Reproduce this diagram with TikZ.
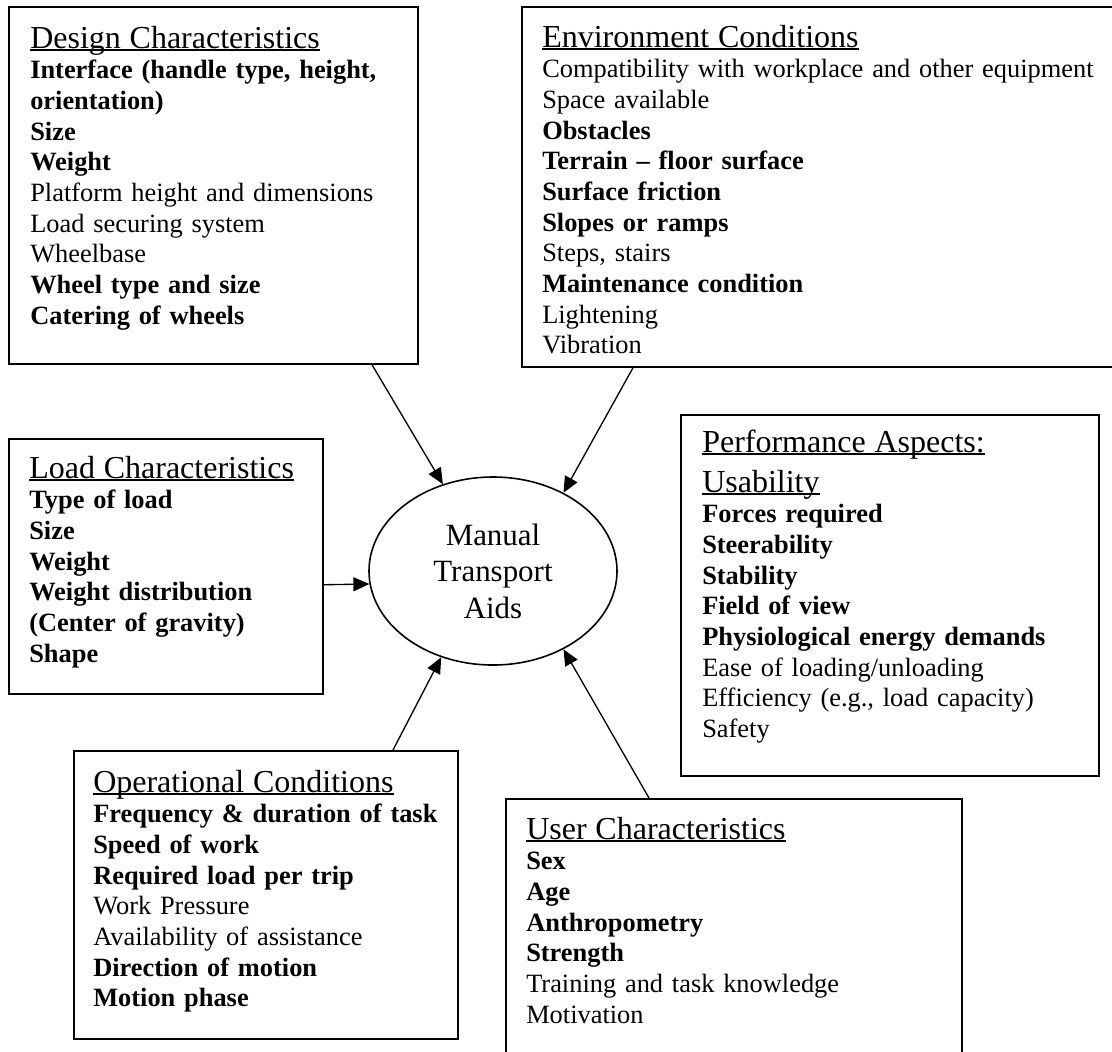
\documentclass[tikz,border=0pt]{standalone}
\usepackage{fontspec}
\setmainfont{Liberation Serif}
\usetikzlibrary{arrows.meta,shapes.geometric}

\newcommand{\boxtitle}[1]{\leavevmode{\fontsize{24pt}{23pt}\selectfont\setbox0\hbox{#1}\rlap{\rule[-2.2pt]{\wd0}{1.1pt}}\box0}}

\begin{document}
\begin{tikzpicture}[x=0.75pt,y=-0.75pt,
	box/.style={draw,line width=1.3pt,rectangle,anchor=north west,inner sep=0pt},
	txt/.style={anchor=base west,inner sep=0pt,text width=600pt,align=left,font=\fontsize{19.8pt}{23pt}\selectfont},
	aid/.style={draw,line width=1.2pt,ellipse,minimum width=186pt,minimum height=141pt,inner sep=0pt,align=center,font=\fontsize{23.2pt}{27.4pt}\selectfont},
	arr/.style={line width=1pt,-{Triangle[length=12pt,width=10.5pt]}}]
			\useasboundingbox (0,0) rectangle (1112,1051);
			\clip (0,0) rectangle (1112,1051);

			% Factor boxes
			\node[box,minimum width=306.75pt,minimum height=267.75pt] (design) at (8,6) {};
			\node[box,minimum width=465pt,minimum height=270pt] (env) at (521,6) {};
			\node[box,minimum width=235.5pt,minimum height=191.25pt] (load) at (8,438) {};
			\node[box,minimum width=313.5pt,minimum height=270.75pt] (perf) at (680,414) {};
			\node[box,minimum width=288pt,minimum height=216pt] (oper) at (73,750) {};
			\node[box,minimum width=342pt,minimum height=210pt] (user) at (505,798) {};

			% Centre
			\node[aid] (mta) at (493,571) {Manual\\Transport\\Aids};

			% Box texts
			\node[txt] (designtxt) at (30,48) {\boxtitle{Design Characteristics}\\
				\textbf{Interface (handle type, height,}\\
				\textbf{orientation)}\\
				\textbf{Size}\\
				\textbf{Weight}\\
				Platform height and dimensions\\
				Load securing system\\
				Wheelbase\\
				\textbf{Wheel type and size}\\
				\textbf{Catering of wheels}};
			\node[txt] (envtxt) at (542,47) {\boxtitle{Environment Conditions}\\
				Compatibility with workplace and other equipment\\
				Space available\\
				\textbf{Obstacles}\\
				\textbf{Terrain – floor surface}\\
				\textbf{Surface friction}\\
				\textbf{Slopes or ramps}\\
				Steps, stairs\\
				\textbf{Maintenance condition}\\
				Lightening\\
				Vibration};
			\node[txt] (loadtxt) at (29,478) {\boxtitle{Load Characteristics}\\
				\textbf{Type of load}\\
				\textbf{Size}\\
				\textbf{Weight}\\
				\textbf{Weight distribution}\\
				\textbf{(Center of gravity)}\\
				\textbf{Shape}};
			\node[txt] (perftxt) at (702,452) {\boxtitle{Performance Aspects:}\\[7pt]
				\boxtitle{Usability}\\
				\textbf{Forces required}\\
				\textbf{Steerability}\\
				\textbf{Stability}\\
				\textbf{Field of view}\\
				\textbf{Physiological energy demands}\\
				Ease of loading/unloading\\
				Efficiency (e.g., load capacity)\\
				Safety};
			\node[txt] (opertxt) at (93,792) {\boxtitle{Operational Conditions}\\
				\textbf{Frequency \& duration of task}\\
				\textbf{Speed of work}\\
				\textbf{Required load per trip}\\
				Work Pressure\\
				Availability of assistance\\
				\textbf{Direction of motion}\\
				\textbf{Motion phase}};
			\node[txt] (usertxt) at (526,839) {\boxtitle{User Characteristics}\\
				\textbf{Sex}\\
				\textbf{Age}\\
				\textbf{Anthropometry}\\
				\textbf{Strength}\\
				Training and task knowledge\\
				Motivation};

			% Arrows into the centre
			\draw[arr] ([shift={(364,0)}]design.south west) -- (mta.120);
			\draw[arr] ([shift={(112,0)}]env.south west) -- (mta.48);
			\draw[arr] ([shift={(0,-110)}]load.south east) -- (mta.186);
			\draw[arr] ([shift={(320,0)}]oper.north west) -- (mta.239);
			\draw[arr] ([shift={(144,0)}]user.north west) -- (mta.312);
		\end{tikzpicture}
\end{document}
